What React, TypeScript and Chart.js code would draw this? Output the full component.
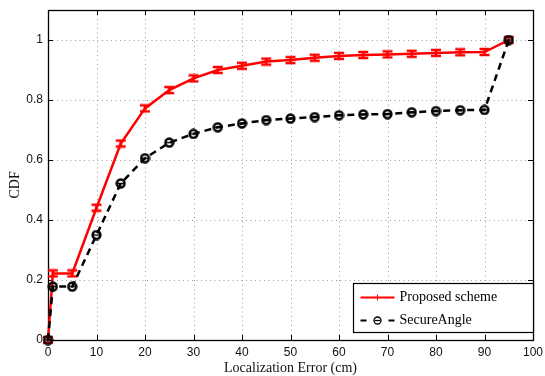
import React, { useEffect, useRef } from "react";
import { Chart, registerables } from "chart.js";

Chart.register(...registerables);

const xValues = [0, 1, 5, 10, 15, 20, 25, 30, 35, 40, 45, 50, 55, 60, 65, 70, 75, 80, 85, 90, 95];
const proposedCdf = [0, 0.222, 0.222, 0.441, 0.655, 0.772, 0.833, 0.872, 0.9, 0.914, 0.928, 0.933, 0.941, 0.947, 0.95, 0.952, 0.954, 0.957, 0.959, 0.96, 1.0];
const secureAngleCdf = [0, 0.178, 0.178, 0.35, 0.522, 0.606, 0.658, 0.687, 0.709, 0.722, 0.733, 0.738, 0.743, 0.749, 0.752, 0.753, 0.759, 0.763, 0.766, 0.767, 1.0];
const xTicks = [0, 10, 20, 30, 40, 50, 60, 70, 80, 90, 100];
const yTicks = [0, 0.2, 0.4, 0.6, 0.8, 1];
const yTickLabels = ["0", "0.2", "0.4", "0.6", "0.8", "1"];
const seriesNames = ["Proposed scheme", "SecureAngle"];
const xTitle = "Localization Error (cm)";
const yTitle = "CDF";

function makeRedMarker(): HTMLCanvasElement {
  const c = document.createElement("canvas");
  c.width = 12;
  c.height = 10;
  const ctx = c.getContext("2d")!;
  ctx.strokeStyle = "#ff0000";
  ctx.lineWidth = 2.6;
  ctx.beginPath();
  ctx.moveTo(6, 1);
  ctx.lineTo(6, 9);
  ctx.moveTo(1, 2);
  ctx.lineTo(11, 2);
  ctx.moveTo(1, 8);
  ctx.lineTo(11, 8);
  ctx.stroke();
  return c;
}

function makeBlackMarker(): HTMLCanvasElement {
  const c = document.createElement("canvas");
  c.width = 11;
  c.height = 11;
  const ctx = c.getContext("2d")!;
  ctx.strokeStyle = "#000";
  ctx.lineWidth = 2.5;
  ctx.beginPath();
  ctx.arc(5.5, 5.5, 3.9, 0, Math.PI * 2);
  ctx.stroke();
  ctx.lineWidth = 1.5;
  ctx.beginPath();
  ctx.moveTo(2, 5.5);
  ctx.lineTo(9, 5.5);
  ctx.stroke();
  return c;
}

export default function App() {
  const ref = useRef<HTMLCanvasElement>(null);

  useEffect(() => {
    const canvas = ref.current!;
    const redMarker = makeRedMarker();
    const blackMarker = makeBlackMarker();

    const framePlugin = {
      id: "frame",
      beforeDatasetsDraw(chart: any) {
        const { ctx, chartArea: a, scales } = chart;
        const xs = scales.x;
        const ys = scales.y;
        ctx.save();
        ctx.fillStyle = "#fff";
        ctx.fillRect(a.left, a.top, a.right - a.left, a.bottom - a.top);
        // dotted grid
        ctx.strokeStyle = "#9a9a9a";
        ctx.lineWidth = 1;
        ctx.setLineDash([1, 3.5]);
        xTicks.forEach((v) => {
          if (v <= 0 || v >= 100) return;
          const x = Math.round(xs.getPixelForValue(v)) + 0.5;
          ctx.beginPath();
          ctx.moveTo(x, a.top);
          ctx.lineTo(x, a.bottom);
          ctx.stroke();
        });
        yTicks.forEach((v) => {
          if (v <= 0) return;
          const y = Math.round(ys.getPixelForValue(v)) + 0.5;
          ctx.beginPath();
          ctx.moveTo(a.left, y);
          ctx.lineTo(a.right, y);
          ctx.stroke();
        });
        ctx.setLineDash([]);
        // box
        ctx.strokeStyle = "#000";
        ctx.lineWidth = 1.3;
        ctx.strokeRect(Math.round(a.left) + 0.5, Math.round(a.top) + 0.5, Math.round(a.right - a.left), Math.round(a.bottom - a.top));
        // inward ticks
        ctx.lineWidth = 1;
        const tl = 5;
        xTicks.forEach((v) => {
          const x = Math.round(xs.getPixelForValue(v)) + 0.5;
          ctx.beginPath();
          ctx.moveTo(x, a.bottom);
          ctx.lineTo(x, a.bottom - tl);
          ctx.moveTo(x, a.top);
          ctx.lineTo(x, a.top + tl);
          ctx.stroke();
        });
        yTicks.forEach((v) => {
          const y = Math.round(ys.getPixelForValue(v)) + 0.5;
          ctx.beginPath();
          ctx.moveTo(a.left, y);
          ctx.lineTo(a.left + tl, y);
          ctx.moveTo(a.right, y);
          ctx.lineTo(a.right - tl, y);
          ctx.stroke();
        });
        // tick labels
        ctx.fillStyle = "#111";
        ctx.font = "12px 'Liberation Sans', Arial, sans-serif";
        ctx.textAlign = "center";
        ctx.textBaseline = "middle";
        xTicks.forEach((v) => {
          ctx.fillText(String(v), xs.getPixelForValue(v), a.bottom + 13);
        });
        ctx.textAlign = "right";
        yTicks.forEach((v, i) => {
          ctx.fillText(yTickLabels[i], a.left - 5, ys.getPixelForValue(v));
        });
        // titles
        ctx.font = "14px 'Liberation Serif', 'Times New Roman', serif";
        ctx.textAlign = "center";
        ctx.textBaseline = "middle";
        ctx.fillText(xTitle, (a.left + a.right) / 2, a.bottom + 28);
        ctx.save();
        ctx.translate(15, ys.getPixelForValue(0.517));
        ctx.rotate(-Math.PI / 2);
        ctx.fillText(yTitle, 0, 0);
        ctx.restore();
        ctx.restore();
      },
      afterDatasetsDraw(chart: any) {
        const { ctx, chartArea: a } = chart;
        ctx.save();
        const w = 180;
        const h = 49;
        const left = Math.round(a.right - w) + 0.5;
        const top = Math.round(a.bottom - 8 - h) + 0.5;
        ctx.fillStyle = "#fff";
        ctx.fillRect(left, top, w, h);
        ctx.strokeStyle = "#000";
        ctx.lineWidth = 1.2;
        ctx.strokeRect(left, top, w, h);
        const lx1 = left + 7;
        const lx2 = left + 41;
        const mx = (lx1 + lx2) / 2;
        const y1 = top + 14;
        const y2 = top + 37;
        // row 1
        ctx.strokeStyle = "#ff0000";
        ctx.lineWidth = 2;
        ctx.beginPath();
        ctx.moveTo(lx1, y1);
        ctx.lineTo(lx2, y1);
        ctx.stroke();
        ctx.lineWidth = 1;
        ctx.beginPath();
        ctx.moveTo(mx, y1 - 3);
        ctx.lineTo(mx, y1 + 3);
        ctx.stroke();
        // row 2
        ctx.strokeStyle = "#000";
        ctx.lineWidth = 2;
        ctx.beginPath();
        ctx.moveTo(lx1, y2);
        ctx.lineTo(lx1 + 6, y2);
        ctx.moveTo(lx2 - 6, y2);
        ctx.lineTo(lx2, y2);
        ctx.stroke();
        ctx.lineWidth = 1.3;
        ctx.beginPath();
        ctx.arc(mx, y2, 3.5, 0, Math.PI * 2);
        ctx.stroke();
        ctx.beginPath();
        ctx.moveTo(mx - 3, y2);
        ctx.lineTo(mx + 3, y2);
        ctx.stroke();
        ctx.fillStyle = "#000";
        ctx.font = "14px 'Liberation Serif', 'Times New Roman', serif";
        ctx.textAlign = "left";
        ctx.textBaseline = "middle";
        ctx.fillText(seriesNames[0], lx2 + 5, y1);
        ctx.fillText(seriesNames[1], lx2 + 5, y2);
        ctx.restore();
      },
    };

    const chart = new Chart(canvas, {
      type: "line",
      data: {
        labels: xValues,
        datasets: [
          {
            label: seriesNames[0],
            data: xValues.map((x, i) => ({ x, y: proposedCdf[i] })),
            borderColor: "#ff0000",
            backgroundColor: "#ff0000",
            borderWidth: 2.5,
            pointStyle: redMarker as any,
            pointRadius: 5,
            clip: false as any,
            order: 2,
            tension: 0,
          },
          {
            label: seriesNames[1],
            data: xValues.map((x, i) => ({ x, y: secureAngleCdf[i] })),
            borderColor: "#000",
            backgroundColor: "#000",
            borderWidth: 2.5,
            borderDash: [7, 5],
            pointStyle: blackMarker as any,
            pointRadius: 5,
            clip: false as any,
            order: 1,
            tension: 0,
          },
        ],
      },
      options: {
        responsive: false,
        animation: false,
        layout: { padding: { left: 48, right: 12, top: 10, bottom: 36 } },
        scales: {
          x: { type: "linear", min: 0, max: 100, display: false },
          y: { type: "linear", min: 0, max: 1.1, display: false },
        },
        plugins: {
          legend: { display: false },
          tooltip: { enabled: false },
        },
      },
      plugins: [framePlugin],
    });
    return () => chart.destroy();
  }, []);

  return (
    <div style={{ position: "absolute", left: 0, top: 0, width: 545, height: 376, background: "#fff" }}>
      <canvas ref={ref} width={545} height={376} style={{ display: "block" }} />
    </div>
  );
}
